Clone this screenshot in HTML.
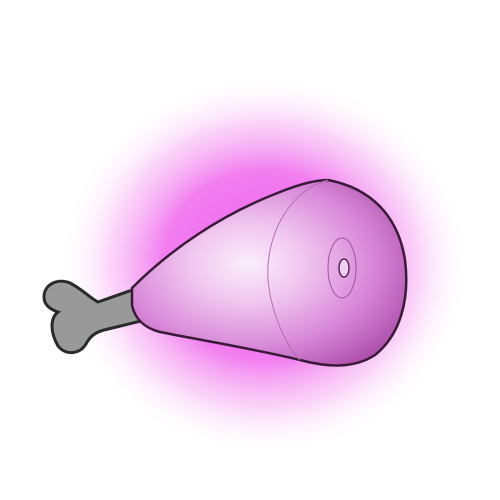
<!DOCTYPE html>
<html><head><meta charset="utf-8"><style>
html,body{margin:0;padding:0;background:#fff;width:500px;height:500px;overflow:hidden}
</style></head><body>
<svg width="500" height="500" viewBox="0 0 500 500">
<defs>
<radialGradient id="glow" cx="0.5" cy="0.5" r="0.5">
<stop offset="0" stop-color="#ee60ee" stop-opacity="1"/>
<stop offset="0.5" stop-color="#f070ee" stop-opacity="0.9"/>
<stop offset="0.75" stop-color="#f6a8f2" stop-opacity="0.5"/>
<stop offset="1" stop-color="#ffffff" stop-opacity="0"/>
</radialGradient>
<radialGradient id="meat" cx="0.42" cy="0.45" r="0.7">
<stop offset="0" stop-color="#fbeefb"/>
<stop offset="0.3" stop-color="#f0c6ef"/>
<stop offset="0.65" stop-color="#d888d8"/>
<stop offset="1" stop-color="#a848a6"/>
</radialGradient>
</defs>
<ellipse cx="265" cy="265" rx="205" ry="190" fill="url(#glow)"/>
<g>
<path d="M70,283 C58,278 44,284 44,297 C44,306 52,310 58,312 C50,318 50,332 58,346 C66,356 80,354 86,344 C90,336 96,332 104,330 L145,320 L138,288 L98,302 C90,298 82,289 70,283 Z" fill="#999" stroke="#2a2a2a" stroke-width="3"/>
</g>
<path d="M132,288 C170,250 220,215 280,192 C300,184 315,180 328,180 C370,188 398,215 405,260 C410,300 400,335 375,355 C355,368 330,368 300,360 C250,348 200,340 160,332 C145,328 135,320 132,305 Z" fill="url(#meat)" stroke="#3a1a38" stroke-width="2.5"/>
<path d="M328,180 C290,190 265,235 268,280 C272,320 290,350 300,360" fill="none" stroke="#b070b0" stroke-width="1"/>
<ellipse cx="342" cy="268" rx="14" ry="30" fill="none" stroke="#a050a0" stroke-width="1"/>
<ellipse cx="344" cy="268" rx="5" ry="9" fill="#f0d0f0" stroke="#5a2a58" stroke-width="1.5"/>
</svg>
</body></html>
